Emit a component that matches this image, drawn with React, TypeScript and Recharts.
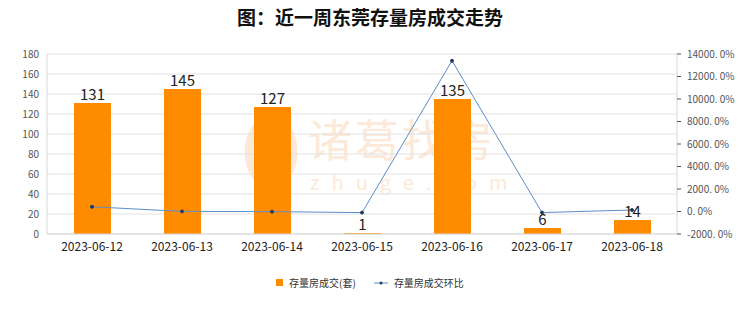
import {
  Bar,
  CartesianGrid,
  ComposedChart,
  LabelList,
  Legend,
  Line,
  XAxis,
  YAxis,
} from 'recharts';

const dates = [
  '2023-06-12',
  '2023-06-13',
  '2023-06-14',
  '2023-06-15',
  '2023-06-16',
  '2023-06-17',
  '2023-06-18',
];
const deals = [131, 145, 127, 1, 135, 6, 14];
const changePct = [420, 10.7, -12.4, -99.2, 13400, -95.6, 133.3];

const leftTicks = [0, 20, 40, 60, 80, 100, 120, 140, 160, 180];
const rightTicks = [-2000, 0, 2000, 4000, 6000, 8000, 10000, 12000, 14000];

const data = dates.map((date, i) => ({
  date,
  deals: deals[i],
  change: changePct[i],
}));

const fmtPct = (v: number) => `${v.toFixed(1).replace('.', '. ')}%`;

// right axis ticks drawn by hand so the labels never wrap
const RightTick = ({ x, y, payload }: any) => (
  <text x={x + 4} y={y} dy={3.5} fill="#555" fontSize={10} textAnchor="start">
    {fmtPct(payload.value)}
  </text>
);

function renderLegend() {
  return (
    <div
      style={{
        display: 'flex',
        justifyContent: 'center',
        alignItems: 'center',
        fontSize: 10,
        color: '#333',
        gap: 18,
        paddingTop: 3,
      }}
    >
      <span style={{ display: 'flex', alignItems: 'center', gap: 6 }}>
        <span style={{ width: 7, height: 7, background: '#ff8c00', display: 'inline-block' }} />
        存量房成交(套)
      </span>
      <span style={{ display: 'flex', alignItems: 'center', gap: 6 }}>
        <svg width={14} height={6}>
          <line x1={0} y1={3} x2={14} y2={3} stroke="#5b8fc9" strokeWidth={1} />
          <circle cx={7} cy={3} r={1.5} fill="#1f3a5f" />
        </svg>
        存量房成交环比
      </span>
    </div>
  );
}

const wmColor = '#fde9d8';

export default function App() {
  return (
    <div
      style={{
        position: 'absolute',
        left: 0,
        top: 0,
        width: 740,
        height: 312,
        background: '#fff',
        fontFamily: '"Noto Sans CJK SC", "Noto Sans", sans-serif',
      }}
    >
      <div
        style={{
          position: 'absolute',
          top: 3,
          width: 740,
          textAlign: 'center',
          fontSize: 19,
          fontWeight: 700,
          color: '#111',
        }}
      >
        图：近一周东莞存量房成交走势
      </div>
      {/* faint watermark, sits behind the chart */}
      <svg
        width={740}
        height={312}
        style={{ position: 'absolute', left: 0, top: 0, zIndex: 0 }}
      >
        <ellipse cx={271} cy={152} rx={22} ry={32} fill="none" stroke={wmColor} strokeWidth={9} />
        <text x={308} y={157} fontSize={44} fill={wmColor} letterSpacing={3}>
          诸葛找房
        </text>
        <text x={310} y={190} fontSize={20} fill={wmColor} letterSpacing={12}>
          zhuge.com
        </text>
      </svg>
      <div style={{ position: 'absolute', left: 0, top: 0, zIndex: 1 }}>
        <ComposedChart
          width={740}
          height={312}
          data={data}
          margin={{ top: 54, right: 0, bottom: 10, left: 0 }}
          barCategoryGap={26}
        >
          <CartesianGrid yAxisId="left" vertical={false} stroke="#e3e3e3" />
          <XAxis
            dataKey="date"
            tickLine={false}
            axisLine={{ stroke: '#d9d9d9' }}
            tick={{ fill: '#222', fontSize: 12 }}
            height={38}
            interval={0}
          />
          <YAxis
            yAxisId="left"
            domain={[0, 180]}
            ticks={leftTicks}
            width={47}
            tickLine={false}
            axisLine={{ stroke: '#d9d9d9' }}
            tick={{ fill: '#555', fontSize: 10 }}
            interval={0}
          />
          <YAxis
            yAxisId="right"
            orientation="right"
            domain={[-2000, 14000]}
            ticks={rightTicks}
            width={63}
            tickSize={4}
            tickLine={{ stroke: '#555' }}
            axisLine={{ stroke: '#d9d9d9' }}
            tick={RightTick}
            interval={0}
          />
          <Legend content={renderLegend} verticalAlign="bottom" height={30} />
          <Bar
            yAxisId="left"
            dataKey="deals"
            name="存量房成交(套)"
            fill="#ff8c00"
            barSize={37}
            isAnimationActive={false}
          >
            <LabelList dataKey="deals" position="top" fill="#222" fontSize={15} offset={3} />
          </Bar>
          <Line
            yAxisId="right"
            type="linear"
            dataKey="change"
            name="存量房成交环比"
            stroke="#5b8fc9"
            strokeWidth={1}
            dot={{ r: 1.5, fill: '#1f3a5f', stroke: '#1f3a5f' }}
            isAnimationActive={false}
          />
        </ComposedChart>
      </div>
    </div>
  );
}
